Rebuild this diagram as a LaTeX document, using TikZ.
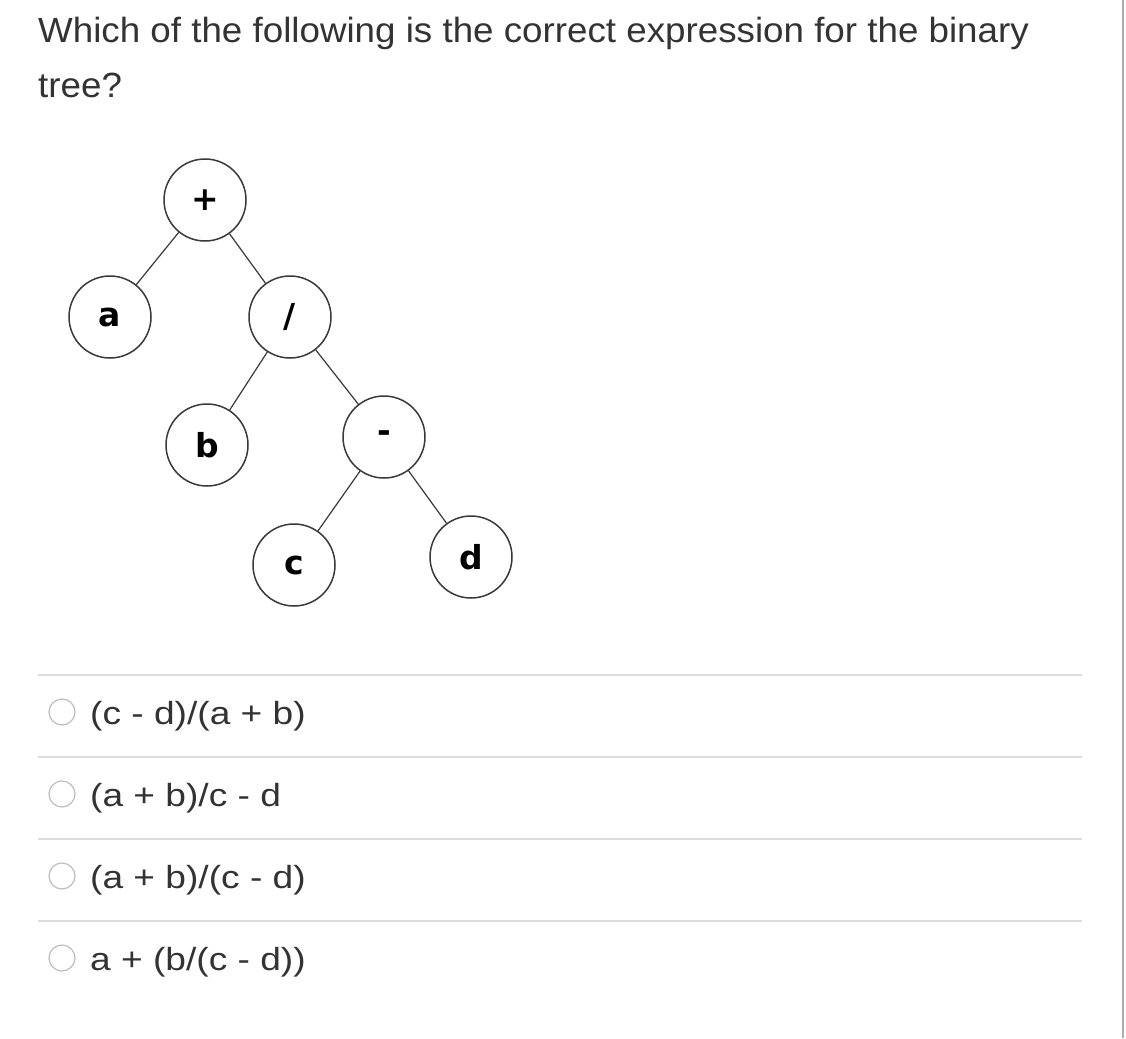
\documentclass[tikz,border=0pt]{standalone}
\usepackage{fontspec}
\setmainfont{Liberation Sans}
\newfontfamily\treefont{DejaVu Sans}
\definecolor{txt}{HTML}{333333}
\definecolor{sepc}{HTML}{DDDDDD}
\definecolor{radc}{HTML}{BEBEBE}
\definecolor{edgec}{HTML}{3A3A3A}
\begin{document}
\begin{tikzpicture}[x=1pt,y=-1pt,
  tnode/.style={circle, draw=edgec, line width=1.5pt, minimum size=82pt, inner sep=0pt, font=\treefont\bfseries\fontsize{33}{33}\selectfont, text=black},
  tedge/.style={draw=edgec, line width=1.2pt},
  question/.style={anchor=base west, inner sep=0pt, text=txt, font=\fontsize{35}{42}\selectfont},
  answer/.style={anchor=base west, inner sep=0pt, text=txt, font=\fontsize{32}{38}\selectfont},
  sepline/.style={draw=sepc, line width=2pt},
  radio/.style={circle, draw=radc, line width=1.2pt, fill=white, minimum size=26pt, inner sep=0pt}
]
\useasboundingbox (0,0) rectangle (1126,1038);
\fill[white] (0,0) rectangle (1126,1038);
\draw[draw=black!32, line width=2pt] (1123,0) -- (1123,1038);

% question
\node[question] (q1) at (38,43) {\scalebox{1.05}[1]{Which of the following is the correct expression for the binary}};
\node[question] (q2) at (38,98) {\scalebox{1.05}[1]{tree?}};

% tree
\node[tnode] (plus) at (205,200) {+};
\node[tnode] (a) at (110,317) {a};
\node[tnode] (div) at (290,317) {/};
\node[tnode] (b) at (207,445) {b};
\node[tnode] (minus) at (384,437) {-};
\node[tnode] (c) at (294,565) {c};
\node[tnode] (d) at (471,557) {d};
\draw[tedge] (plus) -- (a);
\draw[tedge] (plus) -- (div);
\draw[tedge] (div) -- (b);
\draw[tedge] (div) -- (minus);
\draw[tedge] (minus) -- (c);
\draw[tedge] (minus) -- (d);

% separators
\coordinate (s1l) at (38,675); \coordinate (s1r) at (1082,675);
\coordinate (s2l) at (38,757); \coordinate (s2r) at (1082,757);
\coordinate (s3l) at (38,839); \coordinate (s3r) at (1082,839);
\coordinate (s4l) at (38,921); \coordinate (s4r) at (1082,921);
\draw[sepline] (s1l) -- (s1r);
\draw[sepline] (s2l) -- (s2r);
\draw[sepline] (s3l) -- (s3r);
\draw[sepline] (s4l) -- (s4r);

% answers
\node[radio] (r1) at (62,712) {};
\node[radio] (r2) at (62,794) {};
\node[radio] (r3) at (62,876) {};
\node[radio] (r4) at (62,958) {};
\node[answer] (o1) at (90,724) {\scalebox{1.16}[1]{(c - d)/(a + b)}};
\node[answer] (o2) at (90,806) {\scalebox{1.16}[1]{(a + b)/c - d}};
\node[answer] (o3) at (90,888) {\scalebox{1.16}[1]{(a + b)/(c - d)}};
\node[answer] (o4) at (90,970) {\scalebox{1.16}[1]{a + (b/(c - d))}};
\end{tikzpicture}
\end{document}
